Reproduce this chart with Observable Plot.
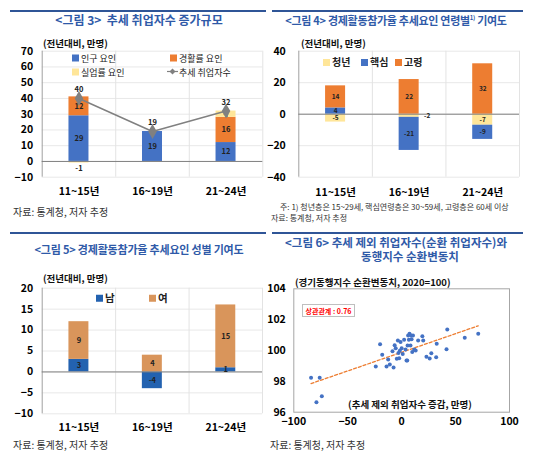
<!DOCTYPE html>
<html>
<head>
<meta charset="utf-8">
<script src="https://cdn.jsdelivr.net/npm/d3@7"></script>
<script src="https://cdn.jsdelivr.net/npm/@observablehq/plot@0.6"></script>
<style>
  body { margin: 0; background: #fff; font-family: "Noto Sans CJK KR", sans-serif; }
  #page { position: relative; width: 539px; height: 454px; overflow: hidden; background: #fff; }
  #page svg { overflow: visible; }
  .t { position: absolute; white-space: nowrap; line-height: 1; }
  .lg { position: absolute; white-space: nowrap; line-height: 1; display: flex; align-items: center; }
  .box { position: absolute; }
  .sq { display: inline-block; width: 7px; height: 7px; margin-right: 2px; }
</style>
</head>
<body>
<div id="page"></div>
<script>
// 공통 구간
const periods = ["11~15년", "16~19년", "21~24년"];

// 그림 3: 추세 취업자수 증가규모
const popFactor = [29, 19, 12];
const partFactor = [12, 0, 16];
const unempFactor = [-1, 0, 4];
const trendEmp = [40, 19, 32];

// 그림 4: 연령별 기여도
const youth = [-5, -2, -7];
const core = [4, -21, -9];
const elderly = [14, 22, 32];

// 그림 5: 성별 기여도
const male = [3, -4, 1];
const female = [9, 4, 15];

// 그림 6: 추세 제외 취업자수 vs 동행지수 순환변동치
const cycEmp = [-84, -76, -74, -79, -24, -20, -18, -14, -12.5, -11, -8.5, -7.5, -6.5, -5.5, -4.5,
  -3.5, -3, -2.3, -1.7, -1, 0, 1, 2.3, 3.6, 4.5, 5.2, 5.5, 6, 6.7, 7.3, 8.2, 8.7, 9.2, 9.8, 10.5,
  11.7, 13, 15.3, 19.2, 20, 23, 26, 27.5, 32.5, 32, 41.6, 42.3, 58.5, 71];
const cycIndex = [98.23, 98.23, 97.04, 96.65, 98.96, 100.4, 99.72, 98.96, 99.42, 99.1, 99.95, 98.9, 100.34, 100.15, 99.46,
  100.65, 99.83, 99.5, 99.98, 100.55, 100.15, 99.78, 100.7, 100.06, 99.35, 99.35, 100.32, 100.97, 100.69, 101.08,
  100.32, 100.97, 100.73, 99.91, 100.97, 100.06, 100.0, 100.65, 100.93, 100.65, 99.6, 99.48, 99.82, 100.43, 99.56,
  100.08, 101.36, 100.82, 101.08];

const FONT = "'Noto Sans CJK KR', sans-serif";
const BLUE = "#4472C4", ORANGE = "#ED7D31", YELLOW = "#FFE699";
const page = d3.select("#page");

// 양수는 위로, 음수는 아래로 쌓기
function stack(series) {
  const rows = [];
  periods.forEach((p, i) => {
    let pos = 0, neg = 0;
    series.forEach(s => {
      const v = s.values[i];
      if (!v) return;
      if (v > 0) { rows.push({i, name: s.name, value: v, lo: pos, hi: pos + v}); pos += v; }
      else { rows.push({i, name: s.name, value: v, lo: neg + v, hi: neg}); neg += v; }
    });
  });
  return rows;
}

const hw = 0.136; // 막대 반폭 (구간 비율)

function barChart(rows, o) {
  return Plot.plot({
    width: o.width, height: o.height,
    marginTop: o.mt, marginBottom: o.mb, marginLeft: o.ml, marginRight: o.mr,
    style: {fontFamily: FONT, fontSize: "10px", fontWeight: "bold", color: "#000", background: "transparent"},
    x: {domain: [0, 3]},
    y: {domain: o.yDomain},
    color: {domain: o.names, range: o.colors},
    marks: [
      Plot.ruleY(o.yTicks, {stroke: "#e8e8e8"}),
      Plot.ruleX([1, 2, 3], {stroke: "#e3e3e3"}),
      Plot.ruleX([0], {stroke: "#a0a0a0"}),
      Plot.rect(rows, {x1: d => d.i + 0.5 - hw, x2: d => d.i + 0.5 + hw, y1: "lo", y2: "hi", fill: "name"}),
      Plot.ruleY([0], {stroke: "#808080"}),
      Plot.axisY({ticks: o.yTicks, tickSize: 0, tickPadding: o.yPad, fontSize: 10.5, label: null}),
      Plot.axisX({ticks: [0.5, 1.5, 2.5], tickFormat: v => periods[Math.floor(v)], tickSize: 0,
        tickPadding: o.xPad, fontSize: 10.5, label: null}),
      ...(o.extra || [])
    ]
  });
}

function mount(chart, left, top) {
  page.append("div").attr("class", "box").style("left", left + "px").style("top", top + "px").append(() => chart);
}

function txt(s, x, y, style = {}, anchor = "start", cls = "t") {
  const d = page.append("div").attr("class", cls).style("left", x + "px").style("top", y + "px").html(s);
  const tx = anchor === "middle" ? "-50%" : anchor === "end" ? "-100%" : "0";
  d.style("transform", `translate(${tx},-50%)`);
  for (const k in style) d.style(k, style[k]);
  return d;
}
const legend = (s, x, y, style) => txt(s, x, y, style, "start", "lg");

function rule(x1, x2, y) {
  page.append("div").attr("class", "box").style("left", x1 + "px").style("top", y + "px")
    .style("width", (x2 - x1) + "px").style("height", "2px").style("background", "#2F5597");
}

const titleStyle = {color: "#2F5AA8", "font-weight": "bold", "font-size": "12px"};
const unitStyle = {"font-weight": "bold", "font-size": "9.5px", color: "#111"};
const srcStyle = {"font-size": "10px", color: "#333"};
const lblStyle = {"font-size": "9px", color: "#222"};
const sq = c => `<span class="sq" style="background:${c}"></span>`;

// ---------- 그림 3 ----------
const rows3 = stack([
  {name: "인구 요인", values: popFactor},
  {name: "경활률 요인", values: partFactor},
  {name: "실업률 요인", values: unempFactor}
]);
const trend3 = trendEmp.map((v, i) => ({i, v}));
mount(barChart(rows3, {
  width: 270, height: 175, mt: 20.7, mb: 28.3, ml: 41.7, mr: 7.7,
  yDomain: [-10, 70], yTicks: d3.range(-10, 71, 10), yPad: 9, xPad: 10,
  names: ["인구 요인", "경활률 요인", "실업률 요인"], colors: [BLUE, ORANGE, YELLOW],
  extra: [
    Plot.text(rows3, {x: d => d.i + 0.5, y: d => (d.value < 0 && d.value > -2) ? d.lo - 3.5 : (d.lo + d.hi) / 2,
      text: d => String(d.value), fontSize: 7.5, fill: "#222"}),
    Plot.line(trend3, {x: d => d.i + 0.5, y: "v", stroke: "#808080", strokeWidth: 1.5}),
    Plot.dot(trend3, {x: d => d.i + 0.5, y: "v", symbol: "diamond", r: 4.5, fill: "#808080"}),
    Plot.text(trend3, {x: d => d.i + 0.5, y: "v", text: d => String(d.v), dy: -8.5, fontSize: 7.5, fill: "#222"})
  ]
}), 0, 30);

rule(10, 266, 10);
txt("&lt;그림 3&gt;&nbsp; 추세 취업자수 증가규모", 139, 20, titleStyle, "middle");
txt("(전년대비, 만명)", 43, 43.5, unitStyle);
legend(sq(BLUE) + "인구 요인", 72, 58, lblStyle);
legend(sq(ORANGE) + "경활률 요인", 170, 58, lblStyle);
legend(sq(YELLOW) + "실업률 요인", 72, 71.5, lblStyle);
legend(`<svg width="11" height="8" style="margin-right:1px"><line x1="0" y1="4" x2="11" y2="4" stroke="#808080" stroke-width="1.2"/><path d="M5.5 1 L8.5 4 L5.5 7 L2.5 4Z" fill="#808080"/></svg>추세 취업자수`, 167, 71.5, lblStyle);
txt("자료: 통계청, 저자 추정", 13, 212, srcStyle);

// ---------- 그림 4 ----------
const rows4 = stack([
  {name: "청년", values: youth},
  {name: "핵심", values: core},
  {name: "고령", values: elderly}
]);
mount(barChart(rows4, {
  width: 269, height: 175, mt: 20.7, mb: 28.3, ml: 28.3, mr: 20,
  yDomain: [-40, 40], yTicks: [-40, -20, 0, 20, 40], yPad: 13, xPad: 11,
  names: ["청년", "핵심", "고령"], colors: [YELLOW, BLUE, ORANGE],
  extra: [
    Plot.text(rows4, {x: d => d.i + 0.5, y: d => (d.lo + d.hi) / 2, text: d => String(d.value),
      fontSize: 6.5, fill: "#222", filter: d => Math.abs(d.value) >= 3}),
    Plot.text(rows4, {x: d => d.i + 0.5, y: d => (d.lo + d.hi) / 2, text: d => String(d.value),
      dx: 18, fontSize: 6.5, fill: "#222", filter: d => Math.abs(d.value) < 3})
  ]
}), 270, 30);

rule(272, 523, 10);
txt("&lt;그림 4&gt; 경제활동참가율 추세요인 연령별<sup style='font-size:6px'>1)</sup> 기여도", 396, 20,
  {...titleStyle, "font-size": "11px", "letter-spacing": "-0.3px"}, "middle");
txt("(전년대비, 만명)", 301, 43.5, unitStyle);
const lg4 = {"font-size": "10px", "font-weight": "bold", color: "#222"};
legend(sq(YELLOW) + "청년", 323, 62, lg4);
legend(sq(BLUE) + "핵심", 361, 62, lg4);
legend(sq(ORANGE) + "고령", 395, 62, lg4);
txt("주: 1) 청년층은 15~29세, 핵심연령층은 30~59세, 고령층은 60세 이상", 280, 207, {"font-size": "8px", color: "#333"});
txt("자료: 통계청, 저자 추정", 271, 218, {"font-size": "8px", color: "#333"});

// ---------- 그림 5 ----------
const MALE = "#2362B0", FEMALE = "#D9955B";
const rows5 = stack([
  {name: "남", values: male},
  {name: "여", values: female}
]);
mount(barChart(rows5, {
  width: 270, height: 175, mt: 22.7, mb: 26.7, ml: 41.7, mr: 8,
  yDomain: [-10, 20], yTicks: d3.range(-10, 21, 5), yPad: 9, xPad: 9.5,
  names: ["남", "여"], colors: [MALE, FEMALE],
  extra: [
    Plot.text(rows5, {x: d => d.i + 0.5, y: d => (d.lo + d.hi) / 2, text: d => String(d.value),
      fontSize: 7.5, fill: "#222"})
  ]
}), 0, 265);

rule(10, 266, 232);
txt("&lt;그림 5&gt; 경제활동참가율 추세요인 성별 기여도", 139, 249,
  {...titleStyle, "font-size": "11px", "letter-spacing": "-0.2px"}, "middle");
txt("(전년대비, 만명)", 43, 279, unitStyle);
const lg5 = {"font-size": "10.5px", "font-weight": "bold", color: "#222"};
legend(sq(MALE) + "남", 96, 298, lg5);
legend(sq(FEMALE) + "여", 149, 298, lg5);
txt("자료: 통계청, 저자 추정", 13, 445, srcStyle);

// ---------- 그림 6 ----------
const pts = cycEmp.map((x, i) => ({x, y: cycIndex[i]}));
mount(Plot.plot({
  width: 269, height: 160,
  marginTop: 18.3, marginBottom: 18.3, marginLeft: 23.3, marginRight: 30,
  style: {fontFamily: FONT, fontSize: "10px", fontWeight: "bold", color: "#000", background: "transparent"},
  x: {domain: [-100, 100]},
  y: {domain: [96, 104]},
  marks: [
    Plot.frame({stroke: "#a6a6a6"}),
    Plot.linearRegressionY(pts, {x: "x", y: "y", stroke: ORANGE, strokeWidth: 1.3, strokeDasharray: "3,2", ci: 0}),
    Plot.dot(pts, {x: "x", y: "y", r: 2, fill: BLUE}),
    Plot.axisX({ticks: [-100, -50, 0, 50, 100], tickSize: 0, tickPadding: 5, fontSize: 10.5, label: null}),
    Plot.axisY({ticks: [96, 98, 100, 102, 104], tickSize: 0, tickPadding: 8, fontSize: 10.5, label: null})
  ]
}), 270, 270);

rule(272, 523, 232);
txt("&lt;그림 6&gt; 추세 제외 취업자수(순환 취업자수)와", 396, 243,
  {...titleStyle, "font-size": "11.5px"}, "middle");
txt("동행지수 순환변동치", 410, 257, {...titleStyle, "font-size": "11.5px"}, "middle");
txt("(경기동행지수 순환변동치, 2020=100)", 295, 283, unitStyle);
txt("(추세 제외 취업자수 증감, 만명)", 410, 405, unitStyle, "middle");
page.append("div").attr("class", "box")
  .style("left", "302px").style("top", "304px").style("width", "53px").style("height", "13px")
  .style("border", "1px solid #bfbfbf").style("background", "#fff").style("box-sizing", "border-box");
txt("상관관계 : 0.76", 328.5, 310.5, {"font-size": "7px", "font-weight": "bold", color: "#FF0000"}, "middle");
txt("자료: 통계청, 저자 추정", 270, 445, srcStyle);
</script>
</body>
</html>
